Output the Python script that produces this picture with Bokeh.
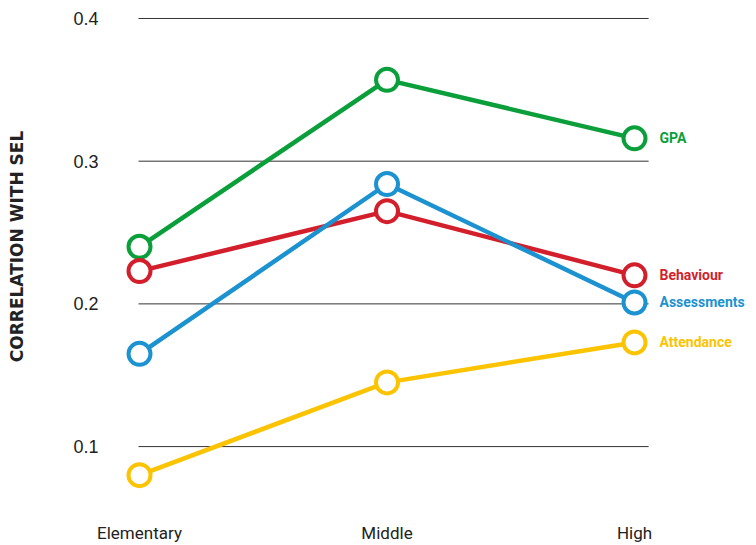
from bokeh.plotting import figure
from bokeh.models import Range1d, FixedTicker, ColumnDataSource
from bokeh.core.properties import value
from bokeh.embed import file_html
from bokeh.resources import INLINE

categories = ["Elementary", "Middle", "High"]
series_names = ["GPA", "Behaviour", "Assessments", "Attendance"]
gpa = [0.240, 0.357, 0.316]
behaviour = [0.223, 0.265, 0.220]
assessments = [0.165, 0.284, 0.201]
attendance = [0.080, 0.145, 0.173]
colors = ["#0a9f3a", "#d21f2b", "#1c92d0", "#fcc300"]
y_ticks = [0.1, 0.2, 0.3, 0.4]

xs = list(range(len(categories)))

p = figure(width=756, height=545, output_backend="svg", toolbar_location=None,
           x_range=Range1d(-0.1253, 2.4929), y_range=Range1d(0.06783, 0.4126),
           min_border_left=108, min_border_right=0, min_border_top=0, min_border_bottom=53)
p.outline_line_color = None
p.background_fill_color = "white"
p.border_fill_color = "white"
p.xgrid.visible = False
p.ygrid.visible = False

# y axis
p.yaxis.ticker = FixedTicker(ticks=y_ticks)
p.yaxis.axis_line_color = None
p.yaxis.major_tick_line_color = None
p.yaxis.minor_tick_line_color = None
p.yaxis.major_tick_out = 0
p.yaxis.minor_tick_out = 0
p.yaxis.major_label_standoff = 10
p.yaxis.major_label_text_font = "Liberation Sans"
p.yaxis.major_label_text_font_size = "18px"
p.yaxis.major_label_text_color = "#222222"
p.yaxis.axis_label = "CORRELATION WITH SEL"
p.yaxis.axis_label_text_font = "DejaVu Sans"
p.yaxis.axis_label_text_font_style = "bold"
p.yaxis.axis_label_text_font_size = "17px"
p.yaxis.axis_label_text_color = "#222222"
p.yaxis.axis_label_standoff = 43

# x axis
p.xaxis.ticker = FixedTicker(ticks=xs)
p.xaxis.major_label_overrides = {i: c for i, c in enumerate(categories)}
p.xaxis.axis_line_color = None
p.xaxis.major_tick_line_color = None
p.xaxis.minor_tick_line_color = None
p.xaxis.major_tick_out = 0
p.xaxis.minor_tick_out = 0
p.xaxis.major_label_standoff = 30
p.xaxis.major_label_text_font = "Roboto"
p.xaxis.major_label_text_font_size = "17px"
p.xaxis.major_label_text_color = "#222222"

# gridlines spanning from the first category to just past the last
gx0 = [xs[0] - 0.004] * len(y_ticks)
gx1 = [xs[-1] + 0.057] * len(y_ticks)
p.segment(x0=gx0, x1=gx1, y0=y_ticks, y1=y_ticks, line_color="#333333", line_width=1)

all_series = [gpa, behaviour, assessments, attendance]
for name, vals, col in zip(series_names, all_series, colors):
    src = ColumnDataSource(dict(x=xs, y=vals))
    p.line("x", "y", source=src, line_color=col, line_width=4.5)
    p.scatter("x", "y", source=src, size=22, fill_color="white", line_color=col, line_width=4)
    p.text(x=[xs[-1] + 0.101], y=[vals[-1]], text=[name], text_color=col,
           text_font=value("Roboto"), text_font_style="bold",
           text_font_size="14px", text_baseline="middle", text_align="left")

open("out.html", "w").write(file_html(p, INLINE))
